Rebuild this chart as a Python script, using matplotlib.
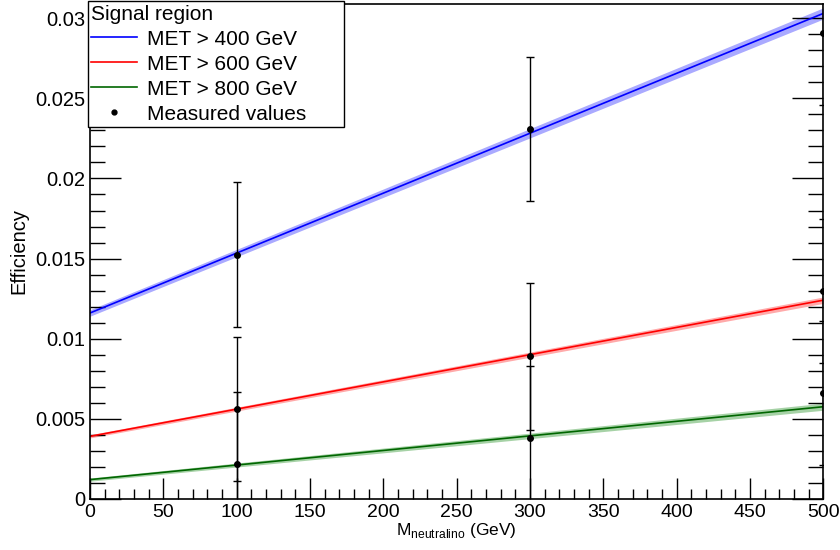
import matplotlib
matplotlib.use("Agg")
import matplotlib.pyplot as plt
from matplotlib.lines import Line2D
import numpy as np

plt.rcParams['font.family'] = ['Liberation Sans', 'DejaVu Sans']

# measured efficiencies
masses = [100, 300, 500]
eff_400 = [0.01525, 0.0231, 0.0291]
eff_600 = [0.0056, 0.0089, 0.0130]
eff_800 = [0.00217, 0.0038, 0.0066]
err_400 = [0.0045, 0.0045, 0.0045]
err_600 = [0.0045, 0.0046, 0.0045]
err_800 = [0.0045, 0.0045, 0.0045]

# fitted lines (ends) and band half widths
fit_x = [0, 500]
fit_400 = [0.0116, 0.0303]
fit_600 = [0.0039, 0.0124]
fit_800 = [0.0012, 0.00575]
band_400 = [0.0002, 0.00035]
band_600 = [0.0001, 0.0002]
band_800 = [0.0001, 0.00022]

fig = plt.figure(figsize=(8.4, 5.5), dpi=100)
ax = fig.add_axes([0.107, 0.093, 0.873, 0.9])

series = [
  (fit_400, band_400, '#0000ff', '#aaaaff', 'MET > 400 GeV'),
  (fit_600, band_600, '#ff0000', '#ffaaaa', 'MET > 600 GeV'),
  (fit_800, band_800, '#006600', '#a6d2a6', 'MET > 800 GeV'),
]
handles = []
for fit, band, col, bcol, lab in series:
  lo = np.array(fit) - np.array(band)
  hi = np.array(fit) + np.array(band)
  ax.fill_between(fit_x, lo, hi, color=bcol, lw=0)
  h, = ax.plot(fit_x, fit, color=col, lw=1.2, label=lab)
  handles.append(h)

for eff, err in [(eff_400, err_400), (eff_600, err_600), (eff_800, err_800)]:
  ax.errorbar(masses, eff, yerr=err, fmt='o', color='black', ms=4,
              elinewidth=1, capsize=3, capthick=1)
handles.append(Line2D([], [], ls='none', marker='o', color='black', ms=3.5))

ax.set_xlim(0, 500)
ax.set_ylim(0, 0.0309)
ax.set_xticks(np.arange(0, 501, 50))
ax.set_xticks(np.arange(0, 501, 10), minor=True)
ax.set_yticks([0, 0.005, 0.01, 0.015, 0.02, 0.025, 0.03])
ax.set_yticklabels(['0', '0.005', '0.01', '0.015', '0.02', '0.025', '0.03'])
ax.set_yticks(np.arange(0, 0.0309, 0.001), minor=True)
ax.tick_params(axis='x', which='major', direction='in', length=15, width=1, labelsize=14, pad=4)
ax.tick_params(axis='x', which='minor', direction='in', length=7, width=1)
ax.tick_params(axis='y', which='major', direction='in', length=22, width=1, labelsize=14.5, right=True)
ax.tick_params(axis='y', which='minor', direction='in', length=11, width=1, right=True)
for sp in ax.spines.values():
  sp.set_linewidth(1.2)

ax.set_xlabel(r'M$_{\mathregular{neutralino}}$ (GeV)', fontsize=12.5, labelpad=0)
ax.set_ylabel('Efficiency', fontsize=14.5, labelpad=5)

title_h = Line2D([], [], ls='none')
labels = ['Signal region', 'MET > 400 GeV', 'MET > 600 GeV', 'MET > 800 GeV', 'Measured values']
leg = ax.legend([title_h] + handles, labels,
                loc='upper left', bbox_to_anchor=(-0.003, 1.005), fontsize=15,
                frameon=True, fancybox=False, edgecolor='black', framealpha=1,
                borderpad=0.15, labelspacing=0.29, handlelength=2.2, handletextpad=0.5,
                borderaxespad=0)
leg.get_frame().set_linewidth(1)
leg.get_texts()[0].set_position((-56, 0))
leg.get_texts()[-1].set_text('Measured values      ')

fig.savefig('out.png', dpi=100)
